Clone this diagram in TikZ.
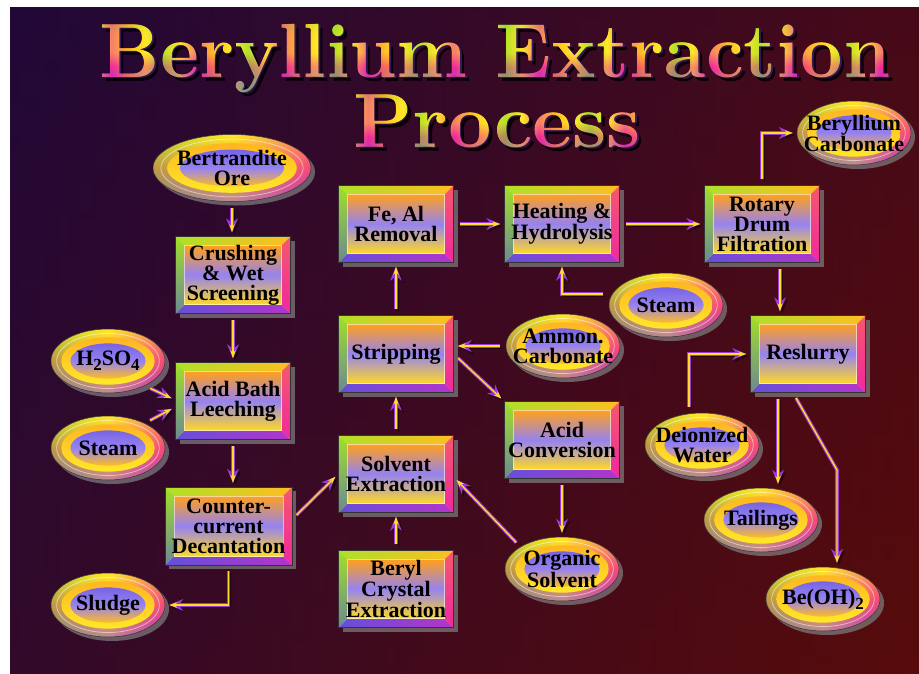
\documentclass[tikz,border=0pt]{standalone}
\usepackage{fontspec}
\usepackage{graphicx}
\setmainfont{Liberation Serif}
\newfontfamily\titlefont{lmroman10-bold}[Extension=.otf]
\usetikzlibrary{arrows.meta,calc,shadows,fadings,shapes.geometric}

\definecolor{bgL}{RGB}{37,9,52}
\definecolor{bgR}{RGB}{84,11,13}
\definecolor{bgT}{RGB}{20,5,70}
\definecolor{bgB}{RGB}{100,12,0}
\definecolor{rYellow}{RGB}{255,232,40}
\definecolor{rOrange}{RGB}{255,160,30}
\definecolor{rGreen}{RGB}{120,220,40}
\definecolor{rMagenta}{RGB}{240,40,160}
\definecolor{rViolet}{RGB}{140,60,230}
\definecolor{rBlue}{RGB}{100,80,220}
\definecolor{rLav}{RGB}{150,130,240}

\newcommand\nf{\fontsize{22}{20}\selectfont\bfseries}
\newcommand\tf{\titlefont\fontsize{77}{77}\selectfont}
\newcommand\cb[1]{\makebox[0pt]{#1}}
\newcommand\sbs[1]{\raisebox{-5pt}{\fontsize{17}{17}\selectfont #1}}

\pgfdeclarehorizontalshading{titlestripes}{100bp}{color(0bp)=(rYellow);
 color(25bp)=(rYellow); color(26bp)=(rGreen); color(27bp)=(rYellow); color(28bp)=(rMagenta); color(29bp)=(rOrange);
 color(30bp)=(rYellow); color(31bp)=(rGreen); color(32bp)=(rYellow); color(33bp)=(rMagenta); color(34bp)=(rOrange);
 color(35bp)=(rYellow); color(36bp)=(rGreen); color(37bp)=(rYellow); color(38bp)=(rMagenta); color(39bp)=(rOrange);
 color(40bp)=(rYellow); color(41bp)=(rGreen); color(42bp)=(rYellow); color(43bp)=(rMagenta); color(44bp)=(rOrange);
 color(45bp)=(rYellow); color(46bp)=(rGreen); color(47bp)=(rYellow); color(48bp)=(rMagenta); color(49bp)=(rOrange);
 color(50bp)=(rYellow); color(51bp)=(rGreen); color(52bp)=(rYellow); color(53bp)=(rMagenta); color(54bp)=(rOrange);
 color(55bp)=(rYellow); color(56bp)=(rGreen); color(57bp)=(rYellow); color(58bp)=(rMagenta); color(59bp)=(rOrange);
 color(60bp)=(rYellow); color(61bp)=(rGreen); color(62bp)=(rYellow); color(63bp)=(rMagenta); color(64bp)=(rOrange);
 color(65bp)=(rYellow); color(66bp)=(rGreen); color(67bp)=(rYellow); color(68bp)=(rMagenta); color(69bp)=(rOrange);
 color(70bp)=(rYellow); color(71bp)=(rGreen); color(72bp)=(rYellow); color(73bp)=(rMagenta); color(74bp)=(rOrange);
 color(75bp)=(rYellow); color(100bp)=(rYellow)}

\pgfdeclareverticalshading{titlerain}{100bp}{color(0bp)=(rBlue); color(25bp)=(rBlue); color(36bp)=(rViolet);
 color(44bp)=(rMagenta); color(52bp)=(rYellow); color(62bp)=(rYellow); color(68bp)=(rGreen!40!rYellow); color(75bp)=(rYellow); color(100bp)=(rYellow)}

\begin{tikzfadingfrompicture}[name=ttlA]
\node[text=transparent!0, inner sep=0pt, text height=62pt, text depth=22pt, font=\tf] (fa) {\scalebox{0.96}[1]{Beryllium Extraction}};
\end{tikzfadingfrompicture}
\begin{tikzfadingfrompicture}[name=ttlB]
\node[text=transparent!0, inner sep=0pt, text height=62pt, text depth=22pt, font=\tf] (fb) {\scalebox{0.98}[1]{Process}};
\end{tikzfadingfrompicture}

\tikzset{
  shd/.style={drop shadow={shadow xshift=4pt, shadow yshift=-4pt, opacity=.7}},
  ttl/.style={fit fading=false},
  box/.style={rectangle, minimum width=115pt, minimum height=77pt, inner sep=0pt,
    align=center, font=\nf, text=black, fill=rYellow, draw=black!80, line width=.5pt, shd,
    path picture={
      \coordinate (pa) at (path picture bounding box.north west);
      \coordinate (pb) at (path picture bounding box.north east);
      \coordinate (pc) at (path picture bounding box.south east);
      \coordinate (pd) at (path picture bounding box.south west);
      \coordinate (qa) at ($(pa)+(9pt,-9pt)$);
      \coordinate (qb) at ($(pb)+(-9pt,-9pt)$);
      \coordinate (qc) at ($(pc)+(-9pt,9pt)$);
      \coordinate (qd) at ($(pd)+(9pt,9pt)$);
      \shade[left color=rGreen!60!rYellow, right color=rOrange!60!rYellow] (pa)--(pb)--(qb)--(qa)--cycle;
      \shade[left color=rBlue, right color=rViolet!60!rMagenta] (pd)--(pc)--(qc)--(qd)--cycle;
      \shade[top color=rGreen!70!rYellow, bottom color=rGreen!40!rBlue] (pa)--(pd)--(qd)--(qa)--cycle;
      \shade[top color=rOrange!40!rMagenta, bottom color=rMagenta] (pb)--(pc)--(qc)--(qb)--cycle;
      \shade[top color=rOrange, bottom color=rYellow!80!rOrange, middle color=rLav] (qa) rectangle (qc);
      \draw[white, opacity=.55, line width=.8pt] (qa) rectangle (qc);
    }},
  oval/.style={ellipse, minimum width=114pt, minimum height=64pt, inner sep=0pt,
    align=center, font=\nf, text=black, draw=black!80, line width=.5pt, shd,
    top color=rYellow, bottom color=rViolet, middle color=rMagenta!50!rOrange,
    path picture={
      \shade[left color=rGreen, right color=rMagenta, middle color=rYellow, opacity=.45]
        (path picture bounding box.south west) rectangle (path picture bounding box.north east);
      \shade[top color=rOrange!70!rYellow, bottom color=rYellow]
        let \p1=($(path picture bounding box.north east)-(path picture bounding box.center)$) in
        (path picture bounding box.center) ellipse [x radius=0.82*\x1, y radius=0.74*\y1];
      \shade[top color=rBlue!60!rLav, bottom color=rOrange!60!rYellow, middle color=rLav]
        let \p1=($(path picture bounding box.north east)-(path picture bounding box.center)$) in
        (path picture bounding box.center) ellipse [x radius=0.66*\x1, y radius=0.55*\y1];
      \draw[white, opacity=.5, line width=.8pt]
        let \p1=($(path picture bounding box.north east)-(path picture bounding box.center)$) in
        (path picture bounding box.center) ellipse [x radius=0.9*\x1, y radius=0.86*\y1];
    }},
  flow/.style={draw=rViolet!80!rMagenta, line width=3.6pt, line join=miter,
    -{Stealth[length=14pt,width=12pt,line width=0pt]}, shorten <=6pt, shorten >=4pt,
    preaction={draw=black, opacity=.5, transform canvas={shift={(2pt,-2pt)}}},
    postaction={draw=rYellow!85!rOrange, line width=1.4pt,
      -{Stealth[length=8pt,width=5.5pt,line width=0pt]}}}
}

\begin{document}
\begin{tikzpicture}[x=1pt, y=-1pt]
\useasboundingbox (0,0) rectangle (919,673);
\fill[white] (0,0) rectangle (919,673);
\shade[left color=bgL, right color=bgR] (10,7) rectangle (919,673);
\shade[top color=bgT, bottom color=bgB, opacity=.2] (10,7) rectangle (919,673);

% title: shadow, dark edge, striped fill, vertical tint
\fill[black, opacity=.8, ttl, path fading=ttlA, fading transform={shift={(499,61)}}] (60,12) rectangle (915,108);
\fill[rViolet!40!black, ttl, path fading=ttlA, fading transform={shift={(496.5,58.5)}}] (60,12) rectangle (915,108);
\shade[ttl, path fading=ttlA, fading transform={shift={(495,57)}}, shading=titlestripes] (60,12) rectangle (915,100);
\shade[ttl, path fading=ttlA, fading transform={shift={(495,57)}}, shading=titlerain, opacity=.45] (60,12) rectangle (915,100);
\fill[black, opacity=.8, ttl, path fading=ttlB, fading transform={shift={(501,131)}}] (60,82) rectangle (915,178);
\fill[rViolet!40!black, ttl, path fading=ttlB, fading transform={shift={(498.5,128.5)}}] (60,82) rectangle (915,178);
\shade[ttl, path fading=ttlB, fading transform={shift={(497,127)}}, shading=titlestripes] (60,82) rectangle (915,170);
\shade[ttl, path fading=ttlB, fading transform={shift={(497,127)}}, shading=titlerain, opacity=.45] (60,82) rectangle (915,170);

% nodes
\node[oval, minimum width=158pt, minimum height=67pt] (bert) at (232,168) {\cb{Bertrandite}\\\cb{Ore}};
\node[box] (crush) at (233,275) {Crushing\\\& Wet\\Screening};
\node[box] (acid) at (233,401) {Acid Bath\\Leeching};
\node[box, minimum width=127pt, minimum height=78pt] (decant) at (228.5,526) {Counter-\\current\\Decantation};
\node[oval] (sludge) at (108,605) {\cb{Sludge}};
\node[oval] (h2so4) at (108,361) {\cb{H\sbs{2}SO\sbs{4}}};
\node[oval] (steamL) at (108,448) {\cb{Steam}};
\node[box] (solvent) at (396,474) {Solvent\\Extraction};
\node[box] (beryl) at (396,589) {Beryl\\Crystal\\Extraction};
\node[box] (strip) at (396,354) {Stripping};
\node[box] (feal) at (396,224) {Fe, Al\\Removal};
\node[box] (heat) at (562,224) {Heating \&\\Hydrolysis};
\node[oval] (steamR) at (666,305) {\cb{Steam}};
\node[oval] (ammon) at (563,346) {\cb{Ammon.}\\\cb{Carbonate}};
\node[box] (acidconv) at (562,440) {Acid\\Conversion};
\node[oval] (organic) at (562,569) {\cb{Organic}\\\cb{Solvent}};
\node[box] (rotary) at (762,224) {Rotary\\Drum\\Filtration};
\node[oval] (becarb) at (854,133) {\cb{Beryllium}\\\cb{Carbonate}};
\node[box] (reslurry) at (808,354) {Reslurry};
\node[oval] (deion) at (702,445) {\cb{Deionized}\\\cb{Water}};
\node[oval] (tailings) at (761,520) {\cb{Tailings}};
\node[oval] (beoh) at (823,599) {\cb{Be(OH)\sbs{2}}};
\coordinate (bend) at (837,470);

% connectors
\draw[flow] (bert.south) -- (bert.south |- crush.north);
\draw[flow] (crush.south) -- (acid.north);
\draw[flow] (acid.south) -- (acid.south |- decant.north);
\draw[flow] (decant.south) |- (sludge.east);
\draw[flow] (h2so4.-34) -- ([yshift=1pt]acid.west);
\draw[flow] (steamL.34) -- ([yshift=-6pt]acid.west);
\draw[flow] (decant.6) -- (solvent.west);
\draw[flow] (beryl.north) -- (solvent.south);
\draw[flow] (solvent.north) -- (strip.south);
\draw[flow] (strip.north) -- (feal.south);
\draw[flow] (feal.east) -- (heat.west);
\draw[flow] (heat.east) -- (rotary.west);
\draw[flow] ([yshift=11pt]steamR.west) -| (heat.south);
\draw[flow] (ammon.west) -- (ammon.west -| strip.east);
\draw[flow] (strip.east) -- (acidconv.north west);
\draw[flow] (acidconv.south) -- (organic.north);
\draw[flow] (organic.152) -- ([yshift=-3pt]solvent.east);
\draw[flow] (rotary.north) |- (becarb.west);
\draw[flow] ([xshift=18pt]rotary.south) -- ([xshift=18pt]rotary.south |- reslurry.north);
\draw[flow] ([xshift=-13pt]deion.north) |- (reslurry.west);
\draw[flow] ([xshift=-30pt]reslurry.south) -- ([xshift=-30pt]reslurry.south |- tailings.north);
\draw[flow] ([xshift=-15pt]reslurry.south) -- (bend) -- (bend |- beoh.north);
\end{tikzpicture}
\end{document}
